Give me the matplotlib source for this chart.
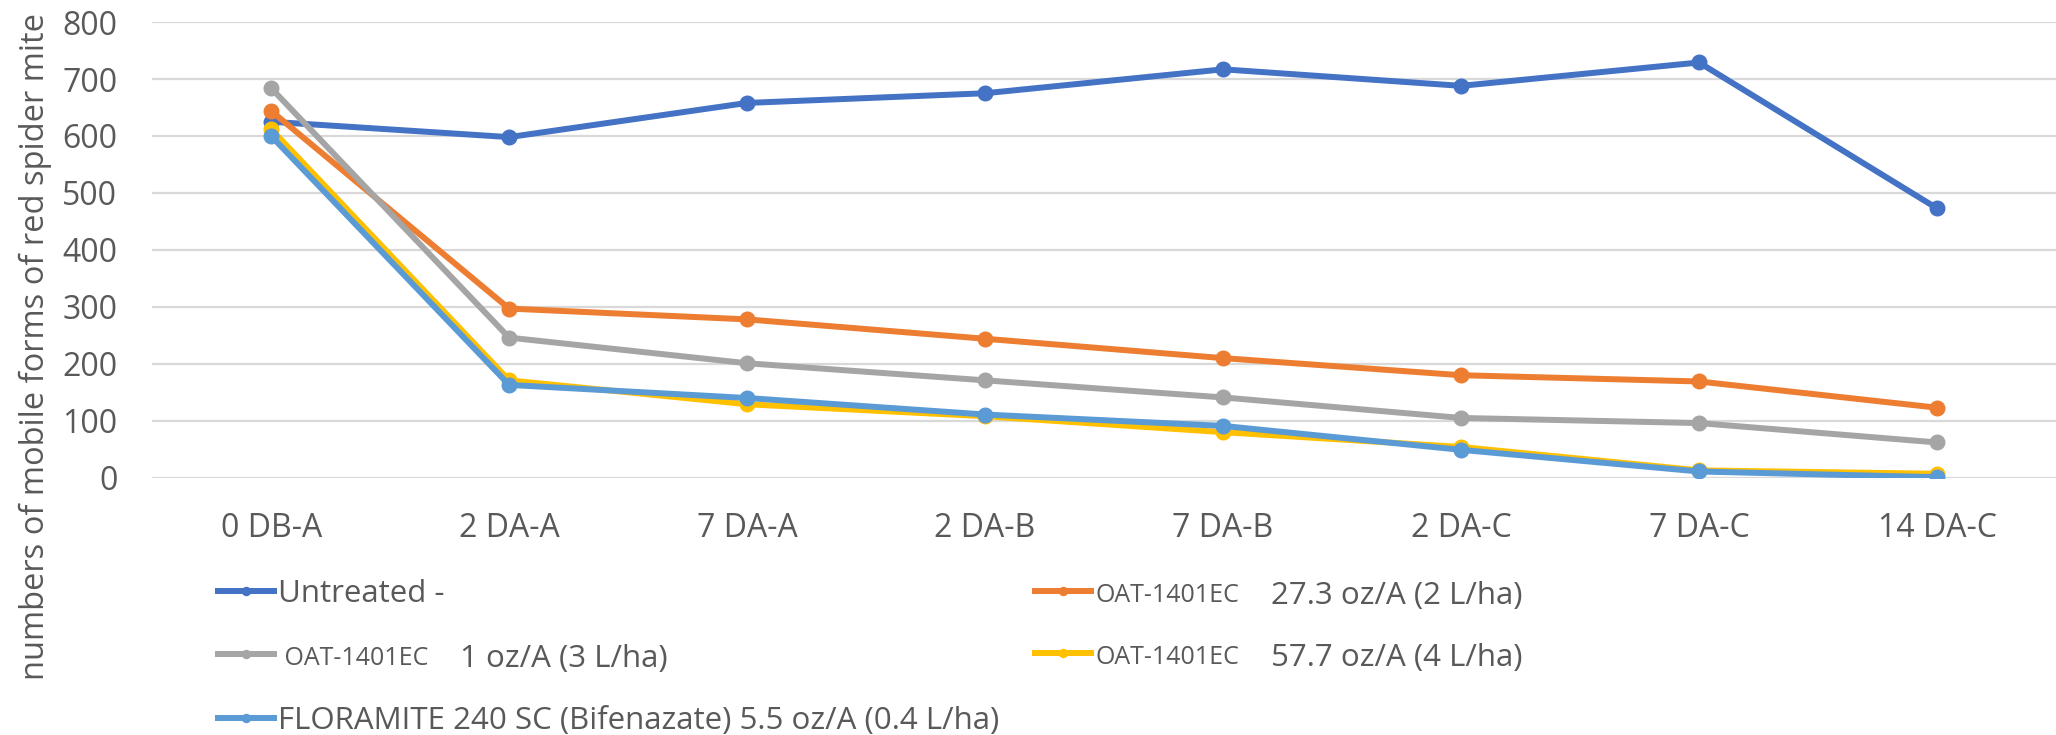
import numpy as np
import matplotlib.pyplot as plt

plt.rcParams['font.family'] = ['Open Sans', 'DejaVu Sans']

# sampling dates
dates = ["0 DB-A", "2 DA-A", "7 DA-A", "2 DA-B", "7 DA-B", "2 DA-C", "7 DA-C", "14 DA-C"]

# mobile forms of red spider mite per treatment
untreated = [625, 598, 658, 675, 717, 688, 729, 473]
oat_27 = [644, 297, 278, 244, 210, 180, 169, 123]
oat_1 = [684, 246, 201, 171, 141, 105, 96, 62]
oat_57 = [612, 171, 129, 108, 80, 54, 13, 7]
floramite = [600, 163, 140, 111, 91, 49, 11, 1]

series = [
    (untreated, "#4472C4", "Untreated -", None),
    (oat_27, "#ED7D31", "OAT-1401EC", "27.3 oz/A (2 L/ha)"),
    (oat_1, "#A5A5A5", " OAT-1401EC", "1 oz/A (3 L/ha)"),
    (oat_57, "#FFC000", "OAT-1401EC", "57.7 oz/A (4 L/ha)"),
    (floramite, "#5B9BD5", "FLORAMITE 240 SC (Bifenazate) 5.5 oz/A (0.4 L/ha)", None),
]

txt = "#595959"
W, H = 2056, 735
fig = plt.figure(figsize=(W / 100, H / 100), dpi=100)
ax = fig.add_axes([0.074, 0.350, 0.926, 0.620])

x = np.arange(len(dates))
lines = []
for vals, col, lab, extra in series:
    ln, = ax.plot(x, vals, color=col, lw=4.3, marker="o", ms=10.5, label=lab,
                  solid_joinstyle="round")
    lines.append(ln)

ax.set_xlim(-0.5, 7.5)
ax.set_ylim(0, 800)
ax.set_yticks(range(0, 801, 100))
ax.set_xticks(x)
ax.set_xticklabels(dates)
ax.tick_params(axis="y", length=0, pad=25, labelsize=23, labelcolor=txt)
ax.tick_params(axis="x", length=0, pad=25, labelsize=23, labelcolor=txt)
ax.grid(axis="y", color="#D9D9D9", lw=1.6)
ax.set_axisbelow(True)
for s in ax.spines.values():
    s.set_visible(False)

fig.text(0.017, 0.528, "numbers of mobile forms of red spider mite", rotation=90,
         ha="center", va="center", fontsize=23.5, color=txt)

# legend in row-major order (matplotlib fills column-wise)
order = [0, 2, 4, 1, 3]
leg = ax.legend([lines[i] for i in order], [series[i][2] for i in order],
                ncol=2, loc="upper left", bbox_to_anchor=(0.028, -0.195),
                frameon=False, fontsize=22.5, handlelength=1.8, handletextpad=0.12,
                columnspacing=1.15, labelspacing=1.1, borderaxespad=0,
                markerscale=0.55)
for t, i in zip(leg.get_texts(), order):
    t.set_color(txt)
    if series[i][3] is not None:
        t.set_fontsize(18)

# second, larger part of the OAT labels sits right after the small product name
fig.canvas.draw()
for t, i in zip(leg.get_texts(), order):
    if series[i][3] is not None:
        bb = t.get_window_extent()
        fig.text((bb.x1 + 32) / W, (bb.y0 + bb.y1) / 2 / H, series[i][3],
                 ha="left", va="center", fontsize=22.5, color=txt)

fig.savefig("out.png", dpi=100)
